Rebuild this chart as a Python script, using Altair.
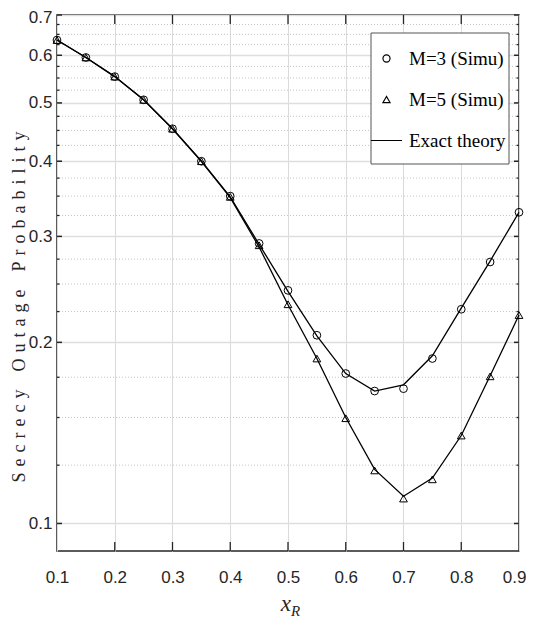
import altair as alt
import pandas as pd

# ---- data ----
x_R = [0.10, 0.15, 0.20, 0.25, 0.30, 0.35, 0.40, 0.45, 0.50, 0.55, 0.60, 0.65, 0.70, 0.75, 0.80, 0.85, 0.90]
sim_M3 = [0.636, 0.595, 0.553, 0.506, 0.453, 0.400, 0.350, 0.292, 0.244, 0.2055, 0.1775, 0.166, 0.1675, 0.188, 0.227, 0.272, 0.329]
sim_M5 = [0.636, 0.595, 0.553, 0.506, 0.453, 0.400, 0.349, 0.290, 0.2314, 0.188, 0.1496, 0.1225, 0.110, 0.1184, 0.140, 0.1756, 0.222]
theory_M3 = [0.636, 0.595, 0.553, 0.506, 0.453, 0.400, 0.349, 0.291, 0.243, 0.205, 0.1775, 0.166, 0.170, 0.190, 0.228, 0.273, 0.329]
theory_M5 = [0.636, 0.595, 0.553, 0.506, 0.453, 0.400, 0.348, 0.288, 0.231, 0.188, 0.150, 0.123, 0.111, 0.119, 0.140, 0.176, 0.222]

legend_labels = ["M=3 (Simu)", "M=5 (Simu)", "Exact theory"]
x_ticks = [0.1, 0.2, 0.3, 0.4, 0.5, 0.6, 0.7, 0.8, 0.9]
x_inner_ticks = [0.2, 0.3, 0.4, 0.5, 0.6, 0.7, 0.8]
y_major = [0.1, 0.2, 0.3, 0.4, 0.5, 0.6, 0.7]
y_minor = [0.125, 0.15, 0.175, 0.225, 0.25, 0.275, 0.325, 0.35, 0.375,
           0.425, 0.45, 0.475, 0.525, 0.55, 0.575, 0.625, 0.65, 0.675]
y_title = "Secrecy Outage Probability"
x_title_main = "x"
x_title_sub = "R"

# ---- tables ----
n = len(x_R)
sim_df = pd.DataFrame({
    "x": x_R + x_R,
    "y": sim_M3 + sim_M5,
    "series": [legend_labels[0]] * n + [legend_labels[1]] * n,
})
th_df = pd.DataFrame({
    "x": x_R + x_R,
    "y": theory_M3 + theory_M5,
    "m": ["M3"] * n + ["M5"] * n,
})
major_df = pd.DataFrame({"y": y_major})
minor_df = pd.DataFrame({"y": y_minor})
xt_df = pd.DataFrame({"x": x_inner_ticks})

W, H = 462, 536
TICK_FONT = "Liberation Sans, Arial, sans-serif"
SERIF = "Liberation Serif"
DARK = "#262626"

xscale = alt.Scale(domain=[0.1, 0.9], nice=False, zero=False)
yscale = alt.Scale(type="log", domain=[0.09, 0.7], nice=False)

x_axis = alt.Axis(values=x_ticks, format=".1f", grid=True, gridColor="#dadada", gridWidth=1,
                  ticks=False, domain=False, labelPadding=18, labelFont=TICK_FONT,
                  labelFontSize=17, labelColor=DARK, labelFlush=False, title=None,
                  labelAlign={"condition": {"test": "datum.value > 0.85", "value": "right"},
                              "value": "center"},
                  labelOffset={"condition": {"test": "datum.value > 0.85", "value": 7},
                               "value": 0})
y_axis = alt.Axis(values=y_major, format=".1f", grid=True, gridColor="#dedede", gridWidth=1.6,
                  ticks=False, domain=False, labelPadding=5, labelFont=TICK_FONT,
                  labelFontSize=17, labelColor=DARK, title=None,
                  labelOffset={"condition": {"test": "datum.value > 0.65", "value": 2},
                               "value": 0})

X = alt.X("x:Q", scale=xscale, axis=x_axis)
Y = alt.Y("y:Q", scale=yscale, axis=y_axis)

minor_grid = alt.Chart(minor_df).mark_rule(color="#c4c4c4", strokeWidth=1, strokeDash=[1, 2]).encode(y=Y)

tick_l_major = alt.Chart(major_df).mark_rule(color=DARK, strokeWidth=1.5).encode(
    y=Y, x=alt.value(0), x2=alt.value(5))
tick_r_major = alt.Chart(major_df).mark_rule(color=DARK, strokeWidth=1.5).encode(
    y=Y, x=alt.value(W - 5), x2=alt.value(W))
tick_l_minor = alt.Chart(minor_df).mark_rule(color=DARK, strokeWidth=1.3).encode(
    y=Y, x=alt.value(0), x2=alt.value(2.5))
tick_r_minor = alt.Chart(minor_df).mark_rule(color=DARK, strokeWidth=1.3).encode(
    y=Y, x=alt.value(W - 2.5), x2=alt.value(W))
tick_b = alt.Chart(xt_df).mark_rule(color=DARK, strokeWidth=1.3).encode(
    x=X, y=alt.value(H - 9), y2=alt.value(H))
tick_t = alt.Chart(xt_df).mark_rule(color=DARK, strokeWidth=1.3).encode(
    x=X, y=alt.value(0), y2=alt.value(9))

lines = alt.Chart(th_df).mark_line(color="black", strokeWidth=1.3).encode(
    x=X, y=Y, detail="m:N",
)

# legend frame (drawn under the legend entries, above grid and curves)
legend_box = alt.Chart(pd.DataFrame({"k": [0]})).mark_rect(
    fill="white", stroke="#555555", strokeWidth=1
).encode(x=alt.value(314), x2=alt.value(452), y=alt.value(18), y2=alt.value(149))

legend = alt.Legend(title=None, orient="none", legendX=318, legendY=32, padding=2,
                    labelFont=SERIF, labelFontSize=19, labelColor="black",
                    labelOffset=13, rowPadding=21, symbolSize=50,
                    symbolStrokeColor="black", symbolStrokeWidth=1.2,
                    symbolFillColor="transparent")

points = alt.Chart(sim_df).mark_point(filled=False, color="black", strokeWidth=1, opacity=1, size=60).encode(
    x=X, y=Y,
    shape=alt.Shape("series:N", scale=alt.Scale(domain=legend_labels,
                                                range=["circle", "triangle-up", "M-4.4,0H4.4"]),
                    legend=legend),
)

spaced = "\u2002\u2005\u2005".join("\u2005\u200a".join(w) for w in y_title.split(" "))
ytitle = alt.Chart(pd.DataFrame({"t": [spaced]})).mark_text(
    font=SERIF, fontSize=18, color=DARK, angle=270, align="center", baseline="middle"
).encode(text="t:N", x=alt.value(-37), y=alt.value(292))

xt_main = alt.Chart(pd.DataFrame({"t": [x_title_main]})).mark_text(
    font=SERIF, fontSize=23, fontStyle="italic", color=DARK, align="right", baseline="alphabetic"
).encode(text="t:N", x=alt.value(234), y=alt.value(596))
xt_sub = alt.Chart(pd.DataFrame({"t": [x_title_sub]})).mark_text(
    font=SERIF, fontSize=15, fontStyle="italic", color=DARK, align="left", baseline="alphabetic"
).encode(text="t:N", x=alt.value(234), y=alt.value(601))

chart = alt.layer(
    minor_grid, tick_l_major, tick_r_major, tick_l_minor, tick_r_minor, tick_b, tick_t,
    lines, legend_box, points, ytitle, xt_main, xt_sub
).properties(
    width=W, height=H,
    autosize=alt.AutoSizeParams(type="none"),
    padding={"left": 49, "top": 7, "right": 7, "bottom": 68},
).configure_view(
    stroke=DARK, strokeWidth=1.5
)

chart.save("out.html", embed_options={"renderer": "svg", "actions": False})
